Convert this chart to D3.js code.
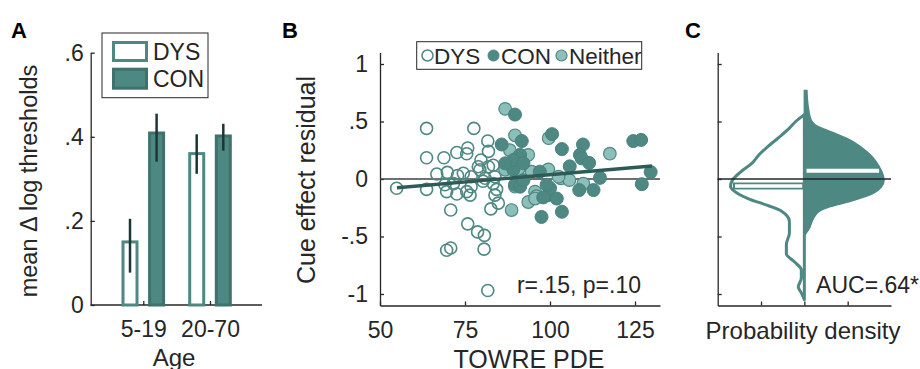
<!DOCTYPE html>
<html>
<head>
<meta charset="utf-8">
<script src="https://cdn.jsdelivr.net/npm/d3@7"></script>
<style>
  body { margin: 0; background: #fff; }
  svg { font-family: "Liberation Sans", Arial, sans-serif; }
</style>
</head>
<body>
<svg id="chart" width="920" height="369"></svg>
<script>
// ---- panel A: bar data ----
const ageGroups = ['5-19', '20-70'];
const dysMean = [0.15, 0.36];
const dysLo = [0.077, 0.312];
const dysHi = [0.205, 0.406];
const conMean = [0.409, 0.402];
const conLo = [0.341, 0.367];
const conHi = [0.455, 0.431];
const yTicksA = [0, 0.2, 0.4, 0.6];
const yTickLabelsA = ['0', '.2', '.4', '.6'];

// ---- panel B: scatter data (TOWRE PDE, cue effect residual) ----
const dysX = [54.9, 63.7, 77.6, 81.7, 63.7, 68.8, 72.6, 75.8, 75.5, 81.9, 79.7, 78.9, 81.9, 66.7, 69.8,
  72.8, 76.8, 80.9, 83.8, 63.7, 69.6, 72.6, 76.5, 75.5, 71.6, 69.1, 76.8, 80.3, 84.3, 83.8, 84.8, 82.6,
  70.8, 75.8, 78.7, 80.7, 69.6, 70.8, 80.6, 81.7, 79.4, 83.3, 74.5, 83.3];
const dysY = [-0.08, 0.44, 0.44, 0.33, 0.185, 0.185, 0.23, 0.27, 0.22, 0.24, 0.165, 0.107, 0.107, 0.043, 0.058,
  0.03, 0.02, 0.006, 0.02, -0.09, -0.11, -0.13, -0.14, -0.11, -0.04, -0.05, -0.067, -0.02, -0.09, -0.14, -0.21, -0.26,
  -0.27, -0.39, -0.46, -0.49, -0.62, -0.60, -0.61, -0.97, 0.08, -0.04, 0.05, 0.12];
const conX = [89.7, 91.7, 100.6, 85.8, 103.5, 109.7, 108.8, 109.3, 111.5, 105.8, 124.5, 126.8, 129.6, 114.7, 127,
  97.5, 103.5, 108.6, 112.8, 99.5, 102, 100, 99, 89.7, 91.2, 89.2, 90.7, 91.2, 89.2, 86.8, 92.2, 97, 92.2, 98];
const conY = [0.56, 0.33, 0.39, 0.30, 0.26, 0.30, 0.21, 0.18, 0.14, 0.11, 0.33, 0.34, 0.06, 0.01, -0.045,
  -0.33, -0.285, -0.096, -0.096, -0.14, -0.17, -0.08, -0.05, -0.05, -0.067, 0.08, 0.19, 0.21, 0.165, 0.136, 0.136, 0.064, -0.01, -0.16];
const neiX = [86.8, 99.6, 89.7, 88.2, 93.6, 86.8, 90.7, 94.6, 99.5, 103.2, 105.7, 95.6, 96, 93.6, 88.7,
  89.7, 109.8, 117.6, 102.5, 95.6];
const neiY = [0.61, 0.355, 0.38, 0.25, 0.21, 0.08, 0.084, 0.064, 0.084, 0.006, -0.01, -0.11, -0.15, -0.2, -0.27,
  -0.067, -0.04, 0.22, 0.02, -0.17];
const fitX = [55, 130];
const fitY = [-0.076, 0.113];
const xTicksB = [50, 75, 100, 125];
const yTicksB = [-1, -0.5, 0, 0.5, 1];
const yTickLabelsB = ['-1', '-.5', '0', '.5', '1'];

// ---- panel C: density profiles (cue effect level, density) ----
const dysLevel = [0.56, 0.5, 0.44, 0.35, 0.28, 0.22, 0.14, 0.06, -0.01, -0.065, -0.11, -0.17, -0.23, -0.28,
  -0.37, -0.47, -0.57, -0.65, -0.72, -0.79, -0.86, -0.94, -0.99, -1.05];
const dysDens = [0, 0.4, 0.7, 1.25, 1.7, 2.05, 2.4, 2.95, 3.32, 3.41, 3.2, 2.6, 1.7, 1.05,
  0.69, 0.69, 0.83, 0.83, 0.46, 0.14, 0.14, 0.28, 0.14, 0];
const conLevel = [0.77, 0.69, 0.6, 0.52, 0.47, 0.43, 0.39, 0.34, 0.28, 0.2, 0.11, 0.03, -0.01, -0.07,
  -0.14, -0.2, -0.24, -0.28, -0.35, -0.42, -0.48];
const conDens = [0.12, 0.14, 0.2, 0.3, 0.5, 0.95, 1.5, 2.1, 2.6, 3.1, 3.45, 3.64, 3.68, 3.55,
  3.0, 2.0, 1.2, 0.7, 0.4, 0.25, 0.05];
const dysMedian = -0.06;
const conMedian = 0.072;

const teal = '#4e8883';
const tealDark = '#3f716d';
const light = '#8dbfba';
const fitColor = '#2d5b57';
const errColor = '#1d3633';
const ink = '#262626';

const svg = d3.select('#chart');

function styleAxis(g) {
  g.selectAll('path, line').attr('stroke', ink).attr('stroke-width', 1.3);
  g.selectAll('text').attr('fill', ink).attr('font-size', 23);
}

// ================= panel A =================
const yA = d3.scaleLinear().domain([0, 0.6]).range([305, 52.7]);
const xA = d3.scalePoint().domain(ageGroups).range([143.3, 210]);
const off = 13.3;

const gA = svg.append('g');
gA.append('g')
  .attr('transform', 'translate(90.7,0)')
  .call(d3.axisLeft(yA).tickValues(yTicksA).tickFormat((d, i) => yTickLabelsA[i]).tickSize(-4).tickSizeOuter(0).tickPadding(7))
  .call(styleAxis);
const axA = gA.append('g')
  .attr('transform', 'translate(0,305)')
  .call(d3.axisBottom(xA).tickSize(-4).tickSizeOuter(0).tickPadding(16))
  .call(styleAxis);
axA.select('.domain').remove();
axA.append('line').attr('x1', 90.7).attr('x2', 262).attr('stroke', ink).attr('stroke-width', 1.3);

// bars
gA.selectAll('.dysbar').data(ageGroups).enter().append('rect')
  .attr('x', d => xA(d) - off - 7).attr('width', 14)
  .attr('y', (d, i) => yA(dysMean[i])).attr('height', (d, i) => yA(0) - yA(dysMean[i]))
  .attr('fill', '#fff').attr('stroke', teal).attr('stroke-width', 3);
gA.selectAll('.conbar').data(ageGroups).enter().append('rect')
  .attr('x', d => xA(d) + off - 7).attr('width', 14)
  .attr('y', (d, i) => yA(conMean[i])).attr('height', (d, i) => yA(0) - yA(conMean[i]))
  .attr('fill', teal).attr('stroke', tealDark).attr('stroke-width', 3);
// error bars
gA.selectAll('.dyserr').data(ageGroups).enter().append('line')
  .attr('x1', d => xA(d) - off).attr('x2', d => xA(d) - off)
  .attr('y1', (d, i) => yA(dysLo[i])).attr('y2', (d, i) => yA(dysHi[i]))
  .attr('stroke', errColor).attr('stroke-width', 2.5);
gA.selectAll('.conerr').data(ageGroups).enter().append('line')
  .attr('x1', d => xA(d) + off).attr('x2', d => xA(d) + off)
  .attr('y1', (d, i) => yA(conLo[i])).attr('y2', (d, i) => yA(conHi[i]))
  .attr('stroke', errColor).attr('stroke-width', 2.5);

// legend
gA.append('rect').attr('x', 102).attr('y', 33).attr('width', 106).attr('height', 64.7)
  .attr('fill', '#fff').attr('stroke', ink).attr('stroke-width', 1);
gA.append('rect').attr('x', 113.5).attr('y', 42.5).attr('width', 33).attr('height', 18)
  .attr('fill', '#fff').attr('stroke', teal).attr('stroke-width', 3);
gA.append('rect').attr('x', 113.5).attr('y', 69.2).attr('width', 33).attr('height', 19)
  .attr('fill', teal).attr('stroke', tealDark).attr('stroke-width', 3);
gA.append('text').attr('x', 153).attr('y', 60).text('DYS').attr('font-size', 23).attr('fill', ink);
gA.append('text').attr('x', 153).attr('y', 87).text('CON').attr('font-size', 23).attr('fill', ink);

gA.append('text').attr('transform', 'translate(37,181) rotate(-90)').attr('text-anchor', 'middle')
  .attr('font-size', 23.5).attr('fill', ink).text('mean \u0394 log thresholds');
gA.append('text').attr('x', 174).attr('y', 366).attr('text-anchor', 'middle')
  .attr('font-size', 24).attr('fill', ink).text('Age');
svg.append('text').attr('x', 11).attr('y', 38).attr('font-size', 22).attr('font-weight', 'bold').text('A');

// ================= panel B =================
const xB = d3.scaleLinear().domain([50, 132.35]).range([380, 660]);
const yB = d3.scaleLinear().domain([-1.1, 1.1]).range([305.5, 52.5]);
const gB = svg.append('g');

gB.append('g').attr('transform', 'translate(380,0)')
  .call(d3.axisLeft(yB).tickValues(yTicksB).tickFormat((d, i) => yTickLabelsB[i]).tickSize(-4).tickSizeOuter(0).tickPadding(12))
  .call(styleAxis);
gB.append('g').attr('transform', 'translate(0,305.5)')
  .call(d3.axisBottom(xB).tickValues(xTicksB).tickFormat(d3.format('d')).tickSize(-4).tickSizeOuter(0).tickPadding(16))
  .call(styleAxis);

gB.append('line').attr('x1', xB(50)).attr('x2', xB(132.35)).attr('y1', yB(0)).attr('y2', yB(0))
  .attr('stroke', '#404040').attr('stroke-width', 1.5);

gB.selectAll('.dys').data(dysX).enter().append('circle')
  .attr('cx', d => xB(d)).attr('cy', (d, i) => yB(dysY[i])).attr('r', 6)
  .attr('fill', 'none').attr('stroke', teal).attr('stroke-width', 1.6);
gB.selectAll('.nei').data(neiX).enter().append('circle')
  .attr('cx', d => xB(d)).attr('cy', (d, i) => yB(neiY[i])).attr('r', 6.3)
  .attr('fill', light).attr('stroke', teal).attr('stroke-width', 1.2);
gB.selectAll('.con').data(conX).enter().append('circle')
  .attr('cx', d => xB(d)).attr('cy', (d, i) => yB(conY[i])).attr('r', 6.5)
  .attr('fill', teal).attr('stroke', '#4a827d').attr('stroke-width', 1);

gB.append('line').attr('x1', xB(fitX[0])).attr('x2', xB(fitX[1]))
  .attr('y1', yB(fitY[0])).attr('y2', yB(fitY[1]))
  .attr('stroke', fitColor).attr('stroke-width', 3.4);

// legend
gB.append('rect').attr('x', 416.7).attr('y', 41.7).attr('width', 225).attr('height', 27.6)
  .attr('fill', '#fff').attr('stroke', ink).attr('stroke-width', 1);
gB.append('circle').attr('cx', 427.5).attr('cy', 55.5).attr('r', 5.5).attr('fill', 'none').attr('stroke', teal).attr('stroke-width', 1.5);
gB.append('circle').attr('cx', 493.5).attr('cy', 55.5).attr('r', 5.5).attr('fill', teal).attr('stroke', teal);
gB.append('circle').attr('cx', 561.5).attr('cy', 55.5).attr('r', 5.5).attr('fill', light).attr('stroke', teal).attr('stroke-width', 1.2);
gB.append('text').attr('x', 434).attr('y', 63.5).attr('font-size', 22.5).attr('fill', ink).text('DYS');
gB.append('text').attr('x', 501).attr('y', 63.5).attr('font-size', 22.5).attr('fill', ink).text('CON');
gB.append('text').attr('x', 569).attr('y', 63.5).attr('font-size', 22.5).attr('fill', ink).text('Neither');

gB.append('text').attr('x', 641).attr('y', 293).attr('text-anchor', 'end')
  .attr('font-size', 23).attr('fill', ink).text('r=.15, p=.10');
gB.append('text').attr('transform', 'translate(315,180) rotate(-90)').attr('text-anchor', 'middle')
  .attr('font-size', 25).attr('fill', ink).text('Cue effect residual');
gB.append('text').attr('x', 529).attr('y', 368).attr('text-anchor', 'middle')
  .attr('font-size', 25).attr('fill', ink).text('TOWRE PDE');
svg.append('text').attr('x', 282).attr('y', 38).attr('font-size', 22).attr('font-weight', 'bold').text('B');

// ================= panel C =================
const xC = d3.scaleLinear().domain([-4, 4]).range([717.7, 891]);
const yC = yB;
const gC = svg.append('g');

gC.append('g').attr('transform', 'translate(717.7,0)')
  .call(d3.axisLeft(yC).tickValues(yTicksB).tickFormat('').tickSize(-4).tickSizeOuter(0))
  .call(styleAxis);
gC.append('g').attr('transform', 'translate(0,305.5)')
  .call(d3.axisBottom(xC).tickValues([-2, 0, 2]).tickFormat('').tickSize(-4).tickSizeOuter(0))
  .call(styleAxis);

const dysPts = dysLevel.map((v, i) => [v, dysDens[i]]);
const conPts = conLevel.map((v, i) => [v, conDens[i]]);

const conArea = d3.area()
  .y(d => yC(d[0])).x0(xC(0)).x1(d => xC(d[1]))
  .curve(d3.curveMonotoneY);
gC.append('path').datum(conPts).attr('d', conArea)
  .attr('fill', teal).attr('stroke', teal).attr('stroke-width', 1.5);

const dysArea = d3.area()
  .y(d => yC(d[0])).x0(xC(0)).x1(d => xC(-d[1]))
  .curve(d3.curveMonotoneY);
gC.append('path').datum(dysPts).attr('d', dysArea)
  .attr('fill', 'none').attr('stroke', teal).attr('stroke-width', 3).attr('stroke-linejoin', 'round');

// median markers
gC.append('line').attr('x1', xC(0)).attr('x2', xC(-3.3)).attr('y1', yC(dysMedian)).attr('y2', yC(dysMedian))
  .attr('stroke', teal).attr('stroke-width', 7);
gC.append('line').attr('x1', xC(-0.1)).attr('x2', xC(-3.2)).attr('y1', yC(dysMedian)).attr('y2', yC(dysMedian))
  .attr('stroke', '#fff').attr('stroke-width', 3.5);
gC.append('line').attr('x1', xC(0.1)).attr('x2', xC(3.45)).attr('y1', yC(conMedian)).attr('y2', yC(conMedian))
  .attr('stroke', '#fff').attr('stroke-width', 4);

gC.append('line').attr('x1', xC(-4)).attr('x2', xC(4)).attr('y1', yC(0)).attr('y2', yC(0))
  .attr('stroke', ink).attr('stroke-width', 1.5);

gC.append('text').attr('x', 919).attr('y', 293).attr('text-anchor', 'end')
  .attr('font-size', 23).attr('fill', ink).text('AUC=.64*');
gC.append('text').attr('x', 803).attr('y', 339).attr('text-anchor', 'middle')
  .attr('font-size', 24).attr('fill', ink).text('Probability density');
svg.append('text').attr('x', 685).attr('y', 38).attr('font-size', 22).attr('font-weight', 'bold').text('C');
</script>
</body>
</html>
